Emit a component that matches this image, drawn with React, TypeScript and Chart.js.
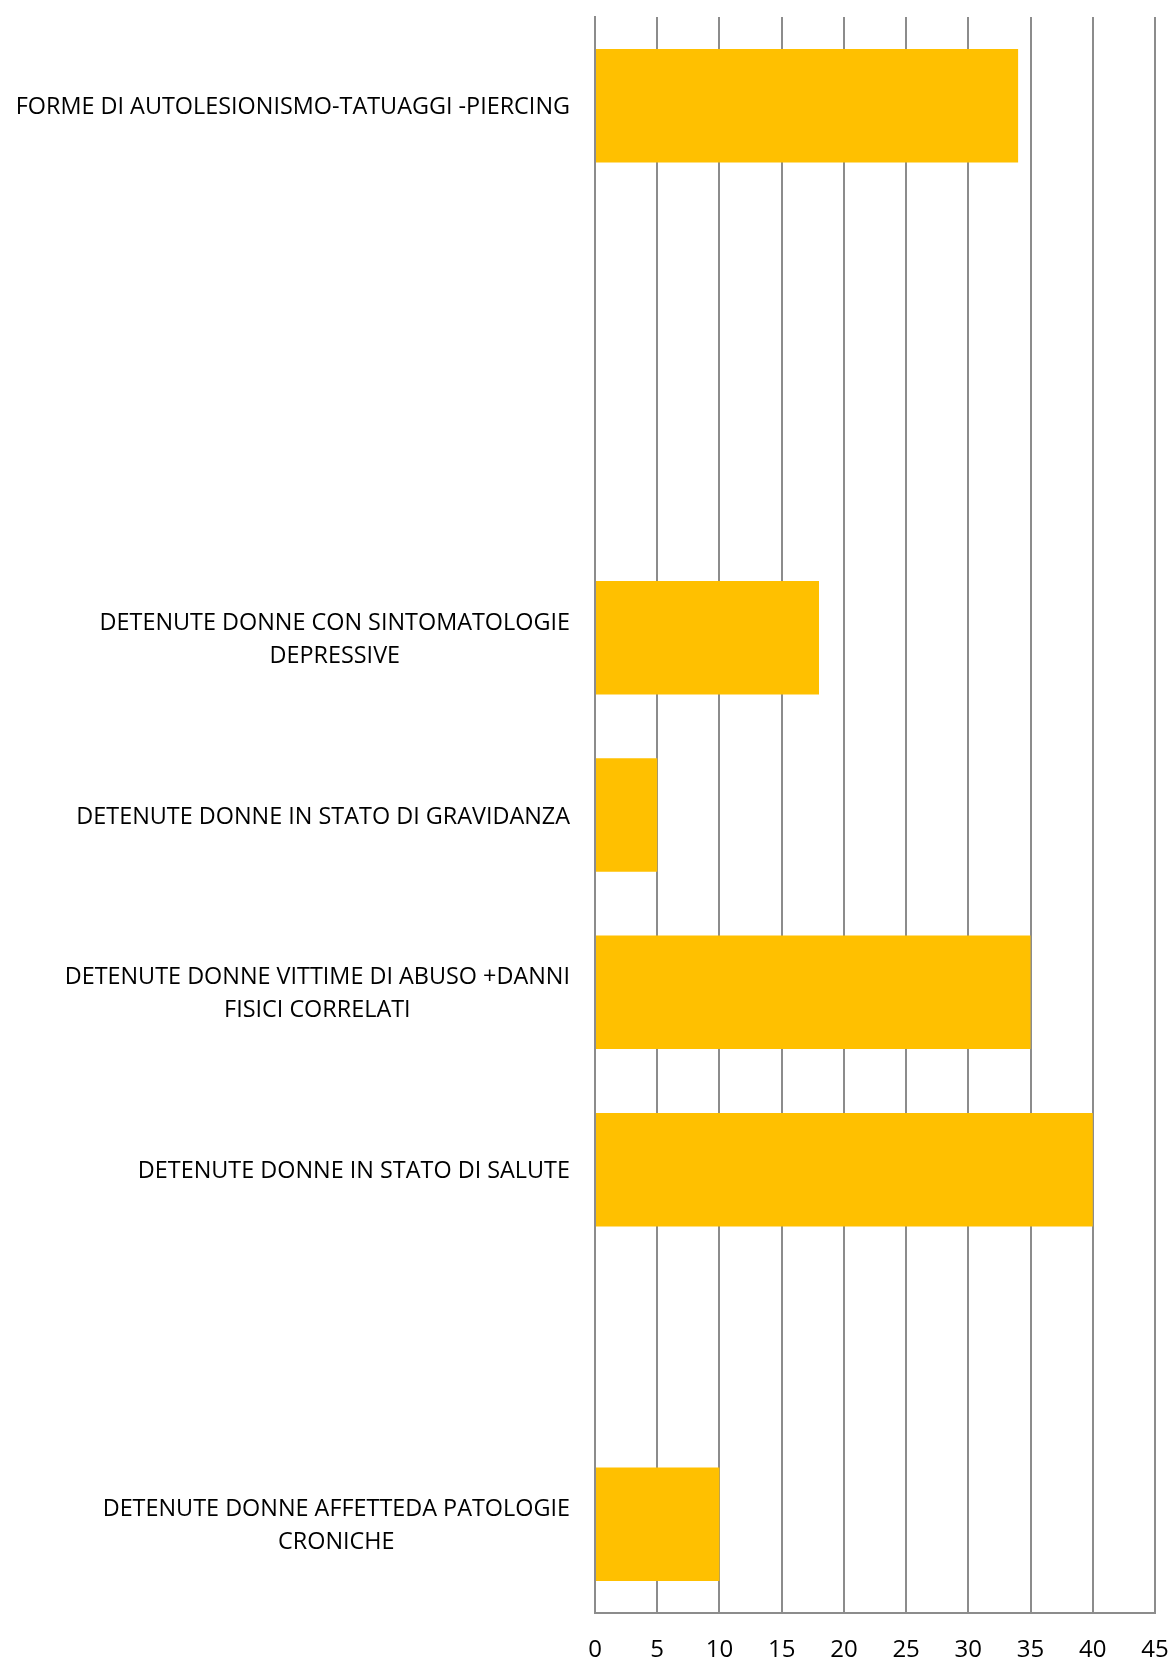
import React, { useEffect, useRef } from "react";
import { Chart, registerables } from "chart.js";

Chart.register(...registerables);

const categories: (string | string[])[] = [
  "FORME DI AUTOLESIONISMO-TATUAGGI -PIERCING",
  "",
  "",
  ["DETENUTE DONNE CON SINTOMATOLOGIE", "DEPRESSIVE"],
  "DETENUTE DONNE IN STATO DI GRAVIDANZA",
  ["DETENUTE DONNE VITTIME DI ABUSO +DANNI", "FISICI CORRELATI"],
  "DETENUTE DONNE IN STATO DI SALUTE",
  "",
  ["DETENUTE DONNE AFFETTEDA PATOLOGIE", "CRONICHE"],
];

const values: (number | null)[] = [34, null, null, 18, 5, 35, 40, null, 10];

const xTickValues: number[] = [0, 5, 10, 15, 20, 25, 30, 35, 40, 45];

const FONT_FAMILY = '"Open Sans", "DejaVu Sans", sans-serif';
const BAR_COLOR = "#FFC000";
const GRID_COLOR = "#8c8c8c";

const W = 1169;
const H = 1659;

const categoryLabelPlugin = {
  id: "categoryLabelPlugin",
  afterDraw(chart: any) {
    const { ctx, chartArea } = chart;
    const yScale = chart.scales.y;
    const labels = chart.data.labels as (string | string[])[];
    const fontSize = 23.4;
    const lineH = 33;
    const rightEdge = chartArea.left - 25;
    ctx.save();
    ctx.font = `${fontSize}px ${FONT_FAMILY}`;
    ctx.fillStyle = "#000000";
    ctx.textAlign = "center";
    ctx.textBaseline = "middle";
    labels.forEach((lab, i) => {
      const lines = Array.isArray(lab) ? lab : [lab];
      if (lines.every((l) => !l)) return;
      const maxW = Math.max(...lines.map((l) => ctx.measureText(l).width));
      const cx = rightEdge - maxW / 2;
      const cy = yScale.getPixelForTick(i) + 2;
      lines.forEach((l, j) => {
        ctx.fillText(l, cx, cy + (j - (lines.length - 1) / 2) * lineH);
      });
    });
    ctx.restore();
  },
};

export default function App() {
  const ref = useRef<HTMLCanvasElement | null>(null);

  useEffect(() => {
    if (!ref.current) return;
    const chart = new Chart(ref.current, {
      type: "bar",
      data: {
        labels: categories as any,
        datasets: [
          {
            data: values as any,
            backgroundColor: BAR_COLOR,
            borderWidth: 0,
            categoryPercentage: 1,
            barPercentage: 0.64,
          },
        ],
      },
      options: {
        indexAxis: "y",
        responsive: false,
        animation: false,
        maintainAspectRatio: false,
        layout: { padding: { left: 0, right: 14, top: 17, bottom: 0 } },
        plugins: {
          legend: { display: false },
          tooltip: { enabled: false },
          title: { display: false },
        },
        scales: {
          x: {
            type: "linear",
            position: "bottom",
            min: 0,
            max: 45,
            afterBuildTicks: (scale: any) => {
              scale.ticks = xTickValues.map((v) => ({ value: v }));
            },
            afterFit: (scale: any) => {
              scale.height = 46;
              scale.paddingLeft = 0;
              scale.paddingRight = 0;
            },
            grid: {
              display: true,
              drawTicks: false,
              color: GRID_COLOR,
              lineWidth: 2,
            },
            border: { display: true, color: GRID_COLOR, width: 2 },
            ticks: {
              padding: 23,
              color: "#000000",
              font: { family: FONT_FAMILY, size: 24 },
              maxRotation: 0,
              autoSkip: false,
            },
          },
          y: {
            type: "category",
            position: "left",
            afterFit: (scale: any) => {
              scale.width = 595;
              scale.paddingTop = 0;
              scale.paddingBottom = 0;
            },
            grid: { display: false, drawTicks: false },
            border: { display: true, color: GRID_COLOR, width: 2 },
            ticks: { display: false },
          },
        },
      },
      plugins: [categoryLabelPlugin],
    });
    return () => chart.destroy();
  }, []);

  return (
    <div style={{ position: "absolute", left: 0, top: 0, width: W, height: H, background: "#ffffff" }}>
      <canvas ref={ref} width={W} height={H} style={{ display: "block", width: W, height: H }} />
    </div>
  );
}
